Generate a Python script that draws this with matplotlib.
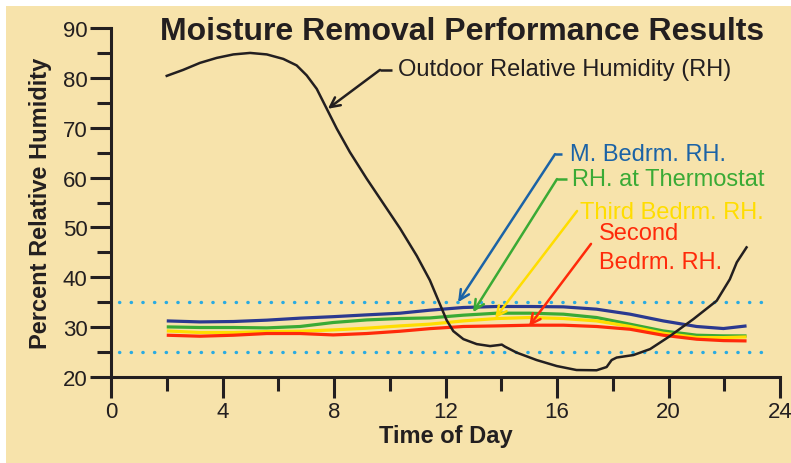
"""Moisture removal performance chart."""
import matplotlib
matplotlib.use("Agg")
import matplotlib.pyplot as plt
from matplotlib.patches import Rectangle
from matplotlib.ticker import MultipleLocator

# hours of day and relative humidity readings (%)
outdoor_hours = [2.0, 2.59, 3.19, 3.79, 4.39, 4.99, 5.59, 6.18, 6.66, 7.02, 7.38, 7.74,
                 8.1, 8.57, 9.17, 9.77, 10.37, 10.97, 11.44, 11.8, 12.04, 12.28, 12.64,
                 13.12, 13.6, 13.9, 14.02, 14.13, 14.55, 15.27, 15.99, 16.7, 17.42,
                 17.78, 17.96, 18.14, 18.74, 19.34, 20.05, 20.89, 21.73, 22.2, 22.45, 22.8]
outdoor_rh = [80.4, 81.6, 83.0, 84.0, 84.7, 85.0, 84.7, 83.8, 82.5, 80.5, 77.8, 73.8,
              69.8, 65.1, 59.8, 54.8, 49.8, 44.3, 39.4, 34.6, 31.4, 29.2, 27.6,
              26.6, 26.2, 26.4, 26.5, 26.1, 24.9, 23.4, 22.2, 21.4, 21.35,
              22.0, 23.4, 23.9, 24.4, 25.6, 28.2, 31.6, 35.3, 39.6, 43.0, 46.0]

indoor_hours = [2.0, 3.19, 4.39, 5.59, 6.78, 7.97, 9.17, 10.37, 11.44, 12.64, 13.84,
                15.03, 16.23, 17.42, 18.62, 19.81, 21.01, 21.97, 22.8]
master_rh = [31.25, 31.05, 31.13, 31.4, 31.8, 32.1, 32.46, 32.8, 33.4, 33.94, 34.14,
             34.14, 34.07, 33.6, 32.6, 31.25, 30.13, 29.72, 30.25]
thermostat_rh = [30.05, 29.93, 29.93, 29.85, 30.13, 30.93, 31.45, 31.73, 31.85, 32.4, 32.8,
                 32.8, 32.6, 31.93, 30.59, 29.24, 28.38, 28.25, 28.24]
third_rh = [29.24, 28.92, 28.92, 29.12, 29.18, 29.44, 29.79, 30.25, 30.6, 31.25, 31.73,
            31.93, 31.73, 31.25, 30.13, 28.78, 27.92, 27.9, 28.04]
second_rh = [28.38, 28.18, 28.38, 28.72, 28.72, 28.44, 28.72, 29.18, 29.7, 30.13, 30.25,
             30.39, 30.39, 30.13, 29.58, 28.38, 27.58, 27.3, 27.24]

band_limits = [25, 35]

BG = "#f7e3ab"
INK = "#231f20"

plt.rcParams["font.family"] = ["Liberation Sans", "DejaVu Sans"]

fig = plt.figure(figsize=(7.91, 4.64), dpi=100, facecolor="white")
fig.patches.append(Rectangle((6 / 791, 0), 1, 1 - 7 / 464, transform=fig.transFigure,
                             facecolor=BG, edgecolor="none", zorder=-10))
ax = fig.add_axes([111 / 791, 1 - 378 / 464, (780 - 111) / 791, (378 - 29) / 464])
ax.set_facecolor("none")

for lim in band_limits:
    ax.plot([0.3, 23.4], [lim, lim], color="#29abe2", lw=2.4,
            linestyle=(0, (0.1, 3.4)), dash_capstyle="round", zorder=1)

line_kw = dict(lw=2.3, solid_joinstyle="round", solid_capstyle="butt", zorder=3)
ax.plot(indoor_hours, master_rh, color="#2b3990", **line_kw)
ax.plot(indoor_hours, thermostat_rh, color="#3aaa35", **line_kw)
ax.plot(indoor_hours, third_rh, color="#ffdd00", **line_kw)
ax.plot(indoor_hours, second_rh, color="#ff2a0a", **line_kw)
ax.plot(outdoor_hours, outdoor_rh, color=INK, lw=1.8, solid_joinstyle="round", zorder=4)

ax.set_xlim(0, 24)
ax.set_ylim(20, 90)
ax.xaxis.set_major_locator(MultipleLocator(4))
ax.xaxis.set_minor_locator(MultipleLocator(2))
ax.yaxis.set_major_locator(MultipleLocator(10))
ax.yaxis.set_minor_locator(MultipleLocator(5))
for s in ("top", "right"):
    ax.spines[s].set_visible(False)
for s in ("left", "bottom"):
    ax.spines[s].set_linewidth(2.2)
    ax.spines[s].set_color(INK)
ax.tick_params(which="major", length=15, width=2.2, color=INK, labelsize=16,
               labelcolor=INK, pad=2)
ax.tick_params(which="minor", length=10, width=2.2, color=INK)
ax.set_ylabel("Percent Relative Humidity", fontsize=17, fontweight="bold", color=INK, labelpad=8)
ax.set_xlabel("Time of Day", fontsize=17, fontweight="bold", color=INK, labelpad=2)

fig.text(462 / 791, 1 - 32 / 464, "Moisture Removal Performance Results",
         ha="center", va="center", fontsize=23, fontweight="bold", color=INK)


def callout(text, tip, elbow, start, color, text_xy, lw=1.8):
    ax.plot([start[0], elbow[0]], [start[1], elbow[1]], color=color, lw=lw,
            solid_capstyle="butt", zorder=5)
    ax.annotate("", xy=tip, xytext=elbow,
                arrowprops=dict(arrowstyle="->,head_length=0.7,head_width=0.35",
                                color=color, lw=lw, shrinkA=0, shrinkB=0), zorder=5)
    ax.text(text_xy[0], text_xy[1], text, color=color, fontsize=17,
            ha="left", va="center", linespacing=1.45, zorder=5)


callout("Outdoor Relative Humidity (RH)", (7.78, 73.8), (9.65, 81.6), (10.08, 81.6),
        INK, (10.3, 81.8))
callout("M. Bedrm. RH.", (12.45, 35.0), (15.93, 64.7), (16.18, 64.7),
        "#1b63a6", (16.45, 64.7))
callout("RH. at Thermostat", (12.99, 33.0), (16.0, 59.7), (16.36, 59.7),
        "#3aaa35", (16.55, 59.7))
callout("Third Bedrm. RH.", (13.78, 31.8), (16.72, 53.3), (16.72, 53.3),
        "#ffdd00", (16.83, 53.1))
callout("Second\nBedrm. RH.", (15.0, 30.2), (17.22, 46.7), (17.22, 46.7),
        "#ff2a0a", (17.5, 46.0))

fig.savefig("out.png", dpi=100, facecolor="white")
